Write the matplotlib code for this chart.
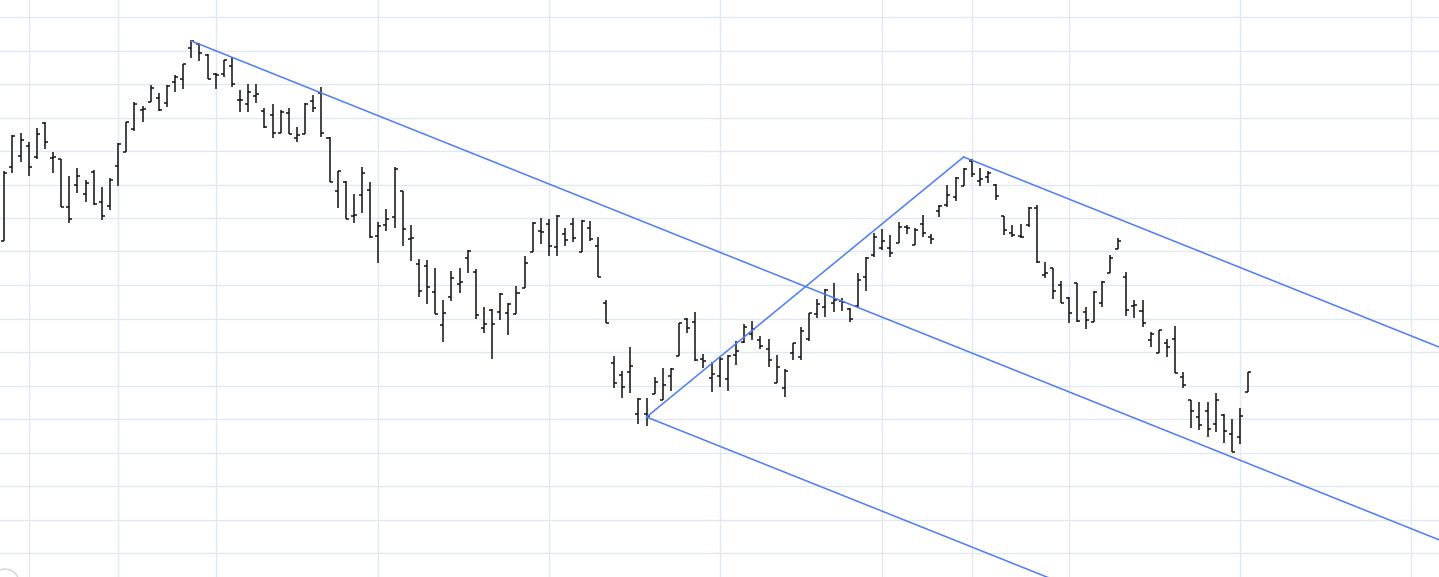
import matplotlib
matplotlib.use("Agg")
import matplotlib.pyplot as plt
import numpy as np
from matplotlib.patches import Ellipse

# OHLC values, one bar per session
opens = [
    33.6, 41.0, 42.1, 43.1, 42.0, 45.4, 41.9, 41.8, 37.0, 39.2,
    38.3, 40.5, 37.5, 37.1, 41.1, 42.5, 44.8, 46.7, 47.5, 47.9,
    47.4, 49.5, 49.8, 52.9, 53.3, 52.2, 50.3, 50.3, 51.1, 47.7,
    47.3, 48.1, 46.6, 46.2, 44.4, 46.4, 43.9, 44.3, 47.6, 48.4,
    43.9, 38.6, 39.5, 36.1, 38.2, 38.7, 34.1, 35.2, 36.0, 38.6,
    33.8, 31.3, 31.1, 28.5, 25.2, 28.0, 29.3, 31.9, 30.5, 24.9,
    26.7, 26.5, 26.4, 26.3, 28.9, 32.5, 34.6, 35.3, 33.0, 34.3,
    35.3, 32.5, 34.9, 33.1, 27.4, 21.4, 20.2, 20.5, 16.3, 16.3,
    18.3, 17.7, 20.1, 22.1, 25.8, 25.5, 21.8, 19.9, 20.1, 19.8,
    22.2, 23.5, 24.3, 23.7, 22.8, 19.4, 18.9, 22.4, 22.0, 23.8,
    26.3, 27.0, 27.4, 27.6, 26.8, 27.1, 30.0, 32.2, 32.9, 32.9,
    33.4, 35.0, 33.2, 35.3, 34.0, 36.6, 37.2, 38.0, 39.1, 41.6,
    39.6, 40.0, 39.2, 36.1, 34.4, 34.1, 35.2, 36.9, 30.2, 30.9,
    29.2, 27.9, 29.4, 26.5, 25.5, 27.4, 30.4, 32.8, 30.0, 27.1,
    26.6, 23.7, 22.4, 23.4, 23.8, 20.0, 17.7, 16.0, 16.6, 15.3,
    16.2, 14.3, 14.0, 18.5,
]
highs = [
    40.6, 44.2, 44.4, 43.5, 44.9, 45.5, 42.5, 41.8, 40.1, 40.9,
    39.7, 40.7, 39.0, 39.9, 43.4, 45.5, 47.5, 47.1, 49.2, 48.4,
    49.2, 50.2, 51.3, 53.7, 53.4, 52.3, 50.4, 51.7, 52.0, 48.7,
    49.3, 49.3, 46.9, 47.3, 46.7, 46.9, 45.0, 47.4, 48.2, 49.0,
    44.0, 40.6, 39.6, 38.3, 41.0, 39.5, 35.5, 36.8, 41.0, 38.6,
    35.2, 31.8, 31.7, 30.9, 27.7, 30.6, 30.9, 32.7, 30.8, 27.0,
    26.8, 28.4, 27.4, 29.1, 32.1, 35.5, 35.9, 35.8, 36.2, 34.9,
    35.9, 35.7, 35.6, 34.0, 27.7, 22.1, 20.6, 23.0, 17.9, 17.9,
    20.0, 20.9, 20.9, 25.4, 25.9, 26.5, 22.3, 21.5, 22.1, 22.2,
    23.6, 25.3, 25.6, 24.1, 23.8, 22.2, 20.8, 23.4, 25.0, 26.4,
    27.8, 28.8, 29.4, 27.9, 26.9, 30.4, 32.0, 34.4, 34.8, 34.2,
    35.5, 35.2, 34.9, 36.2, 34.3, 37.2, 39.2, 40.0, 40.9, 41.8,
    40.9, 40.6, 39.3, 36.1, 35.2, 35.3, 37.0, 37.2, 31.5, 30.9,
    29.6, 28.0, 29.4, 27.0, 28.6, 29.6, 32.2, 33.9, 30.5, 27.7,
    27.7, 24.5, 24.7, 23.8, 25.1, 20.5, 17.7, 17.5, 17.5, 18.4,
    16.3, 15.8, 16.9, 20.5,
]
lows = [
    33.6, 40.4, 41.5, 40.1, 41.8, 42.8, 40.4, 37.0, 35.4, 38.4,
    37.5, 37.2, 35.7, 36.7, 39.1, 42.5, 44.6, 45.5, 47.5, 46.6,
    47.0, 48.5, 48.8, 51.9, 51.6, 49.8, 48.8, 50.0, 49.0, 46.5,
    46.5, 47.4, 44.9, 43.9, 44.4, 44.3, 43.5, 44.3, 46.5, 44.0,
    39.5, 36.9, 35.8, 35.4, 36.4, 33.9, 31.4, 34.6, 34.9, 33.1,
    31.6, 28.0, 27.3, 26.3, 23.5, 27.6, 28.4, 30.4, 25.8, 24.4,
    21.8, 25.7, 24.2, 26.3, 28.9, 32.5, 33.3, 32.1, 32.1, 33.1,
    33.5, 32.5, 33.6, 30.0, 25.4, 18.9, 17.9, 18.4, 15.3, 15.1,
    18.3, 17.7, 18.6, 22.1, 24.4, 21.6, 20.9, 18.5, 19.0, 18.6,
    21.2, 23.4, 23.7, 22.8, 21.0, 19.4, 18.0, 21.7, 21.7, 23.6,
    25.9, 26.0, 26.5, 26.6, 25.5, 27.0, 28.6, 32.0, 32.7, 32.0,
    33.4, 34.3, 33.2, 34.0, 33.3, 36.0, 37.0, 37.6, 39.1, 40.0,
    39.1, 39.4, 37.7, 34.2, 34.0, 33.9, 35.0, 31.4, 29.9, 27.8,
    27.4, 25.4, 25.5, 24.8, 25.5, 27.0, 30.4, 32.8, 26.1, 25.9,
    25.0, 23.0, 22.4, 22.0, 20.4, 18.9, 14.9, 14.7, 14.0, 14.5,
    13.4, 12.5, 13.3, 18.5,
]
closes = [
    40.4, 44.1, 43.7, 41.0, 44.3, 43.5, 42.0, 37.0, 35.8, 40.1,
    39.4, 37.3, 36.1, 39.7, 43.3, 45.5, 47.3, 46.8, 48.9, 46.7,
    49.1, 50.0, 51.3, 53.6, 52.4, 49.8, 50.2, 51.7, 49.3, 47.7,
    48.5, 48.3, 45.0, 44.4, 46.5, 44.3, 44.2, 47.3, 46.9, 44.4,
    39.5, 40.6, 35.8, 36.2, 40.4, 34.0, 35.1, 35.8, 40.8, 34.8,
    33.9, 28.6, 29.0, 26.3, 26.4, 29.9, 29.5, 32.6, 26.2, 25.3,
    25.3, 28.3, 27.3, 28.4, 31.4, 35.4, 34.5, 33.1, 36.1, 33.7,
    33.9, 35.6, 33.8, 30.0, 25.4, 19.4, 19.0, 21.1, 17.8, 16.1,
    19.5, 19.2, 20.8, 25.4, 24.9, 21.7, 21.6, 20.3, 21.8, 22.1,
    22.6, 25.0, 24.8, 23.1, 21.7, 21.0, 20.6, 23.4, 24.6, 26.4,
    27.3, 28.7, 27.7, 27.5, 25.8, 29.7, 31.9, 34.0, 33.6, 32.4,
    35.0, 34.9, 34.7, 34.4, 33.8, 37.1, 38.2, 39.9, 40.8, 40.3,
    39.8, 40.4, 38.1, 34.7, 34.2, 34.0, 36.9, 31.5, 30.4, 28.6,
    27.4, 26.4, 25.6, 25.7, 28.5, 29.5, 31.9, 33.6, 26.7, 27.2,
    25.4, 24.3, 24.7, 23.0, 20.4, 19.2, 16.6, 15.2, 14.8, 17.7,
    14.6, 12.5, 16.1, 20.5,
]

# bar indices where the date grid lines fall
grid_x = [3, 14, 26, 46, 67, 88, 108, 119, 131, 152, 173]

# drawn channel: (bar index, price) anchors and slope per bar
channel_top = (23, 53.6)
channel_low = (79, 16.0)
channel_high = (118, 42.0)
channel_slope = -0.325

x = np.arange(len(opens))
x_min, x_max = -0.53, 176.47
tick = 0.37
bar_color = "#111111"
line_color = "#4d7cf5"

fig = plt.figure(figsize=(14.39, 5.77), dpi=100)
ax = fig.add_axes([0, 0, 1, 1])
ax.set_xlim(x_min, x_max)
ax.set_ylim(0, 57.7)

ax.set_xticks(grid_x)
ax.set_yticks(np.arange(2.4, 57.7, 3.35))
ax.grid(True, color="#dfe9f2", linewidth=1.0)
ax.tick_params(length=0, labelbottom=False, labelleft=False)
for s in ax.spines.values():
    s.set_visible(False)
ax.set_axisbelow(True)

ax.vlines(x, lows, highs, color=bar_color, linewidth=1.1)
ax.hlines(opens, x - tick, x, color=bar_color, linewidth=1.1)
ax.hlines(closes, x, x + tick, color=bar_color, linewidth=1.1)


def ray(start):
    x0, y0 = start
    return [x0, x_max], [y0, y0 + channel_slope * (x_max - x0)]


for start in (channel_top, channel_low, channel_high):
    xs, ys = ray(start)
    ax.plot(xs, ys, color=line_color, linewidth=1.1)
ax.plot([channel_low[0], channel_high[0]], [channel_low[1], channel_high[1]],
        color=line_color, linewidth=1.1)

fig.add_artist(Ellipse((5 / 1439, -6 / 577), 28 / 1439, 28 / 577,
                       transform=fig.transFigure, fill=False,
                       edgecolor="#d4d4d4", linewidth=1.0))

fig.savefig("out.png", dpi=100)
plt.close(fig)
